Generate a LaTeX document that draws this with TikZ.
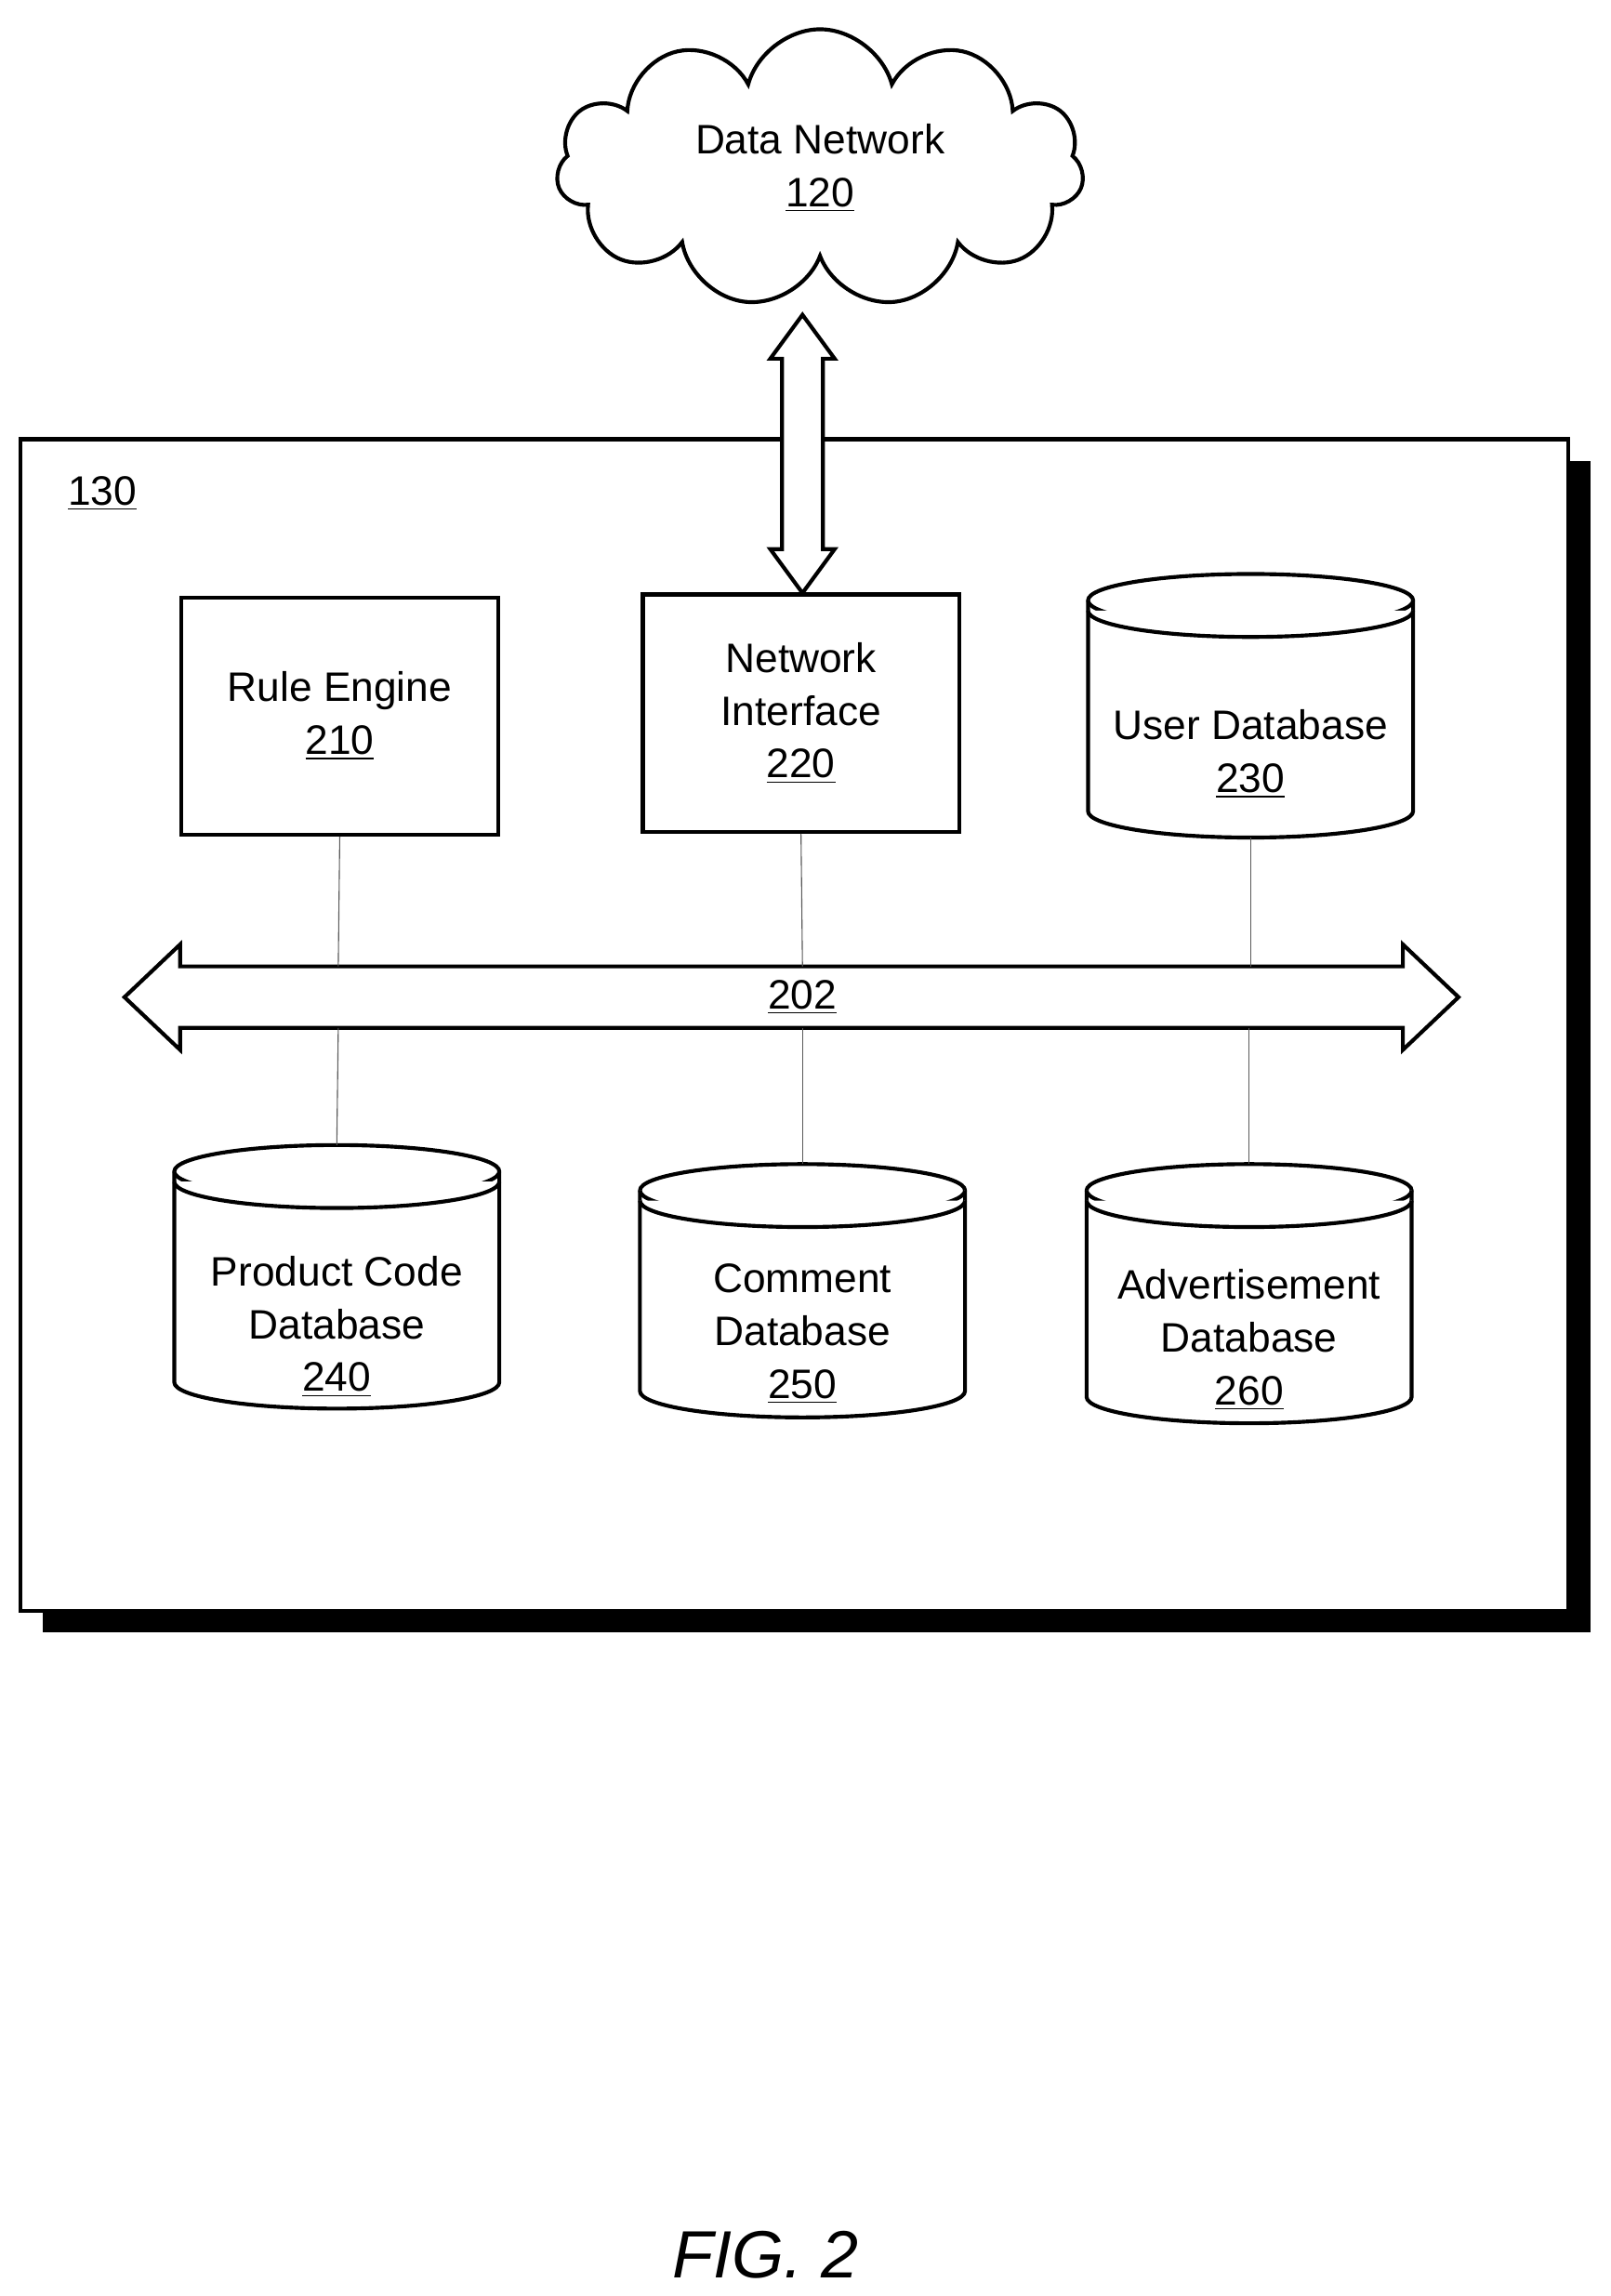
\documentclass[tikz,border=0pt]{standalone}
\usepackage{fontspec}
\setmainfont{Liberation Sans}
\usetikzlibrary{shapes.symbols,positioning}

% database cylinder: name, centre x, top y, bottom y, text y, text
\newcommand{\dbase}[6]{%
  \draw[db] ({#2-111},{#3-18}) -- ({#2-111},{#4+18})
    arc[start angle=180,end angle=360,x radius=111,y radius=18]
    -- ({#2+111},{#3-18})
    arc[start angle=0,end angle=180,x radius=111,y radius=18] -- cycle;
  \draw[db] ({#2-111},{#3-18}) arc[start angle=180,end angle=360,x radius=111,y radius=18];
  \draw[db] ({#2-111},{#3-25}) arc[start angle=180,end angle=360,x radius=111,y radius=18];
  \coordinate (#1 top) at (#2,#3);
  \coordinate (#1 bot) at (#2,#4);
  \node[txt] (#1) at (#2,#5) {#6};
}

\begin{document}
\begin{tikzpicture}[x=0.2mm,y=0.2mm,
    db/.style={line width=1.5pt,fill=white},
    txt/.style={align=center,font=\fontsize{16}{20.5}\selectfont},
    block/.style={draw,line width=1.5pt,fill=white,minimum width=43.2mm,minimum height=32.4mm,txt},
    link/.style={draw,thin,gray!70!black}]
  \useasboundingbox (0,0) rectangle (1100,1568);
  % outer unit with shadow
  \fill (29,453) rectangle (1086,1253);
  \draw[line width=1.5pt,fill=white] (14,468) rectangle (1071,1268);
  \node[txt] (unit) at (70,1231) {\underline{130}};
  % cloud
  \node[cloud,cloud puffs=11,aspect=2,draw,line width=1.5pt,
        minimum width=72mm,minimum height=38mm,txt] (net) at (560,1453)
        {Data Network\\\underline{120}};
  % vertical link arrow
  \draw[line width=1.5pt,fill=white] (548,1353) -- (570,1323) -- (562,1323) -- (562,1193)
     -- (570,1193) -- (548,1163) -- (526,1193) -- (534,1193) -- (534,1323)
     -- (526,1323) -- cycle;
  % blocks
  \node[block] (rule) at (232,1079) {Rule Engine\\\underline{210}};
  \node[block] (nif) at (547,1081) {Network\\Interface\\\underline{220}};
  \dbase{user}{854}{1176}{996}{1053}{User Database\\\underline{230}}
  \dbase{prod}{230}{786}{606}{662}{Product Code\\Database\\\underline{240}}
  \dbase{comm}{548}{773}{600}{657}{Comment\\Database\\\underline{250}}
  \dbase{adv}{853}{773}{596}{653}{Advertisement\\Database\\\underline{260}}
  % bus
  \draw[line width=1.5pt,fill=white] (85,887) -- (123,923) -- (123,908) -- (958,908)
     -- (958,923) -- (996,887) -- (958,851) -- (958,866) -- (123,866)
     -- (123,851) -- cycle;
  \node[txt] (bus) at (548,887) {\underline{202}};
  \draw[link] (rule.south) -- (231,908);
  \draw[link] (nif.south) -- (548,908);
  \draw[link] (user bot) -- (854,908);
  \draw[link] (prod top) -- (231,866);
  \draw[link] (comm top) -- (548,866);
  \draw[link] (adv top) -- (853,866);
  \node[font=\fontsize{26}{30}\selectfont\itshape] (fig) at (523,28) {FIG. 2};
\end{tikzpicture}
\end{document}
